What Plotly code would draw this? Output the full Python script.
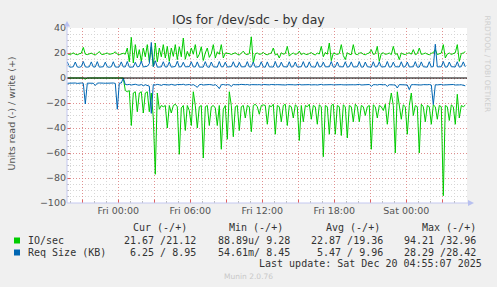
import plotly.graph_objects as go
import pandas as pd

# ---------------- data ----------------
start_time = "2025-12-18 19:45"   # first sample, 10-minute steps

# IO/sec  (read shown negative, write positive)
io_read = [
    0, 0, 0, 0, 0, 0, 0, 0, 0, -1.0,
    0, 0, 0, 0, 0, 0, 0, 0, 0, 0,
    0, 0, 0, 0, 0, 0, 0, 0, 0, -10,
    -11, -10, -38, -12, -11, -27, -12, -11, -28, -12,
    -11, -27, -12, -32, -77, -12, -25, -22, -23, -22,
    -40, -22, -28, -22, -21, -23, -61, -24, -22, -42,
    -22, -26, -38, -11, -22, -40, -23, -22, -64, -23,
    -22, -38, -23, -22, -24, -38, -22, -57, -25, -22,
    -49, -11, -22, -47, -23, -22, -42, -23, -22, -32,
    -22, -23, -43, -22, -21, -23, -29, -22, -21.5, -22,
    -37, -22, -23, -21, -45, -22, -23, -35, -22, -21,
    -38, -22, -23, -32, -21.5, -23, -50, -22, -35, -22,
    -23, -21, -33, -22, -23, -37, -21.5, -23, -63, -22,
    -23, -45, -22, -21, -45, -22, -23, -46, -21.5, -23,
    -48, -22, -23, -35, -21, -23, -35, -22, -23, -30,
    -23, -22, -57, -21.5, -23, -32, -22, -23, -26, -21,
    -37, -22, -12, -22, -60, -11, -22, -33, -21.5, -23,
    -45, -22, -12, -30, -22, -23, -60, -21, -23, -35,
    -22, -23, -37, -21.5, -23, -33, -22, -23, -94.21, -22,
    -23, -34, -21.5, -23, -37, -13, -32, -22, -23, -21.67,
]
io_write = [
    19.5, 18.8, 19.2, 20.1, 19.0, 18.6, 19.4, 19.8, 24.5, 19.1,
    18.7, 19.3, 19.9, 19.0, 18.5, 19.6, 21.2, 19.0, 18.8, 19.5,
    19.9, 18.9, 19.2, 19.7, 21.0, 19.1, 18.7, 19.4, 19.8, 19.0,
    24.0, 13.0, 32.5, 12.0, 26.7, 16.0, 22.7, 13.3, 24.0, 17.0,
    26.7, 13.0, 25.0, 9.28, 28.0, 13.0, 24.0, 17.0, 26.7, 16.0,
    25.3, 13.3, 24.0, 17.3, 26.7, 14.7, 25.0, 17.0, 32.0, 15.0,
    21.3, 17.3, 24.0, 19.0, 26.7, 16.0, 19.0, 25.0, 14.0, 20.0,
    24.0, 16.5, 19.5, 26.7, 16.0, 21.0, 19.0, 26.7, 16.0, 20.0,
    20.0, 19.5, 18.8, 19.6, 20.2, 19.0, 18.5, 19.8, 21.5, 19.2,
    18.7, 19.5, 32.96, 12.0, 19.5, 20.0, 18.9, 19.3, 20.5, 19.0,
    18.6, 19.4, 20.0, 24.0, 18.5, 19.3, 16.0, 20.2, 19.0, 19.6,
    25.3, 17.5, 19.2, 20.0, 18.8, 19.4, 21.5, 18.6, 19.8, 19.1,
    18.7, 19.6, 20.3, 19.0, 18.5, 19.9, 19.2, 25.3, 17.0, 20.5,
    19.0, 28.0, 13.9, 20.0, 19.2, 18.8, 19.6, 26.7, 18.0, 14.7,
    20.2, 19.0, 18.7, 26.7, 19.2, 18.7, 19.8, 20.3, 19.0, 18.6,
    19.5, 20.0, 22.7, 18.8, 19.4, 25.3, 13.3, 19.6, 20.1, 18.9,
    19.3, 20.0, 18.7, 25.3, 19.0, 19.4, 14.7, 20.1, 19.0, 18.8,
    19.6, 20.2, 19.0, 22.7, 18.6, 19.5, 24.0, 18.9, 19.3, 20.0,
    19.1, 18.6, 19.7, 20.3, 22.7, 18.8, 19.4, 19.9, 26.7, 16.0,
    19.2, 20.0, 18.8, 19.5, 20.2, 26.7, 13.3, 19.6, 20.0, 21.12,
]
# Req Size (KB)  (read shown negative, write positive)
req_read = [
    -4.2, -4.0, -3.9, -4.1, -4.0, -4.3, -3.9, -4.0, -4.2, -20.8,
    -4.1, -4.0, -3.9, -4.2, -6.0, -4.1, -4.0, -3.8, -4.1, -4.2,
    -4.0, -3.9, -4.1, -4.0, -4.3, -25.0, -4.1, -4.0, -0.055, -5.2,
    -5.4, -5.1, -5.6, -5.3, -5.0, -5.5, -5.8, -5.2, -6.2, -5.4,
    -5.7, -6.5, -28.29, -5.3, -5.6, -5.1, -5.4, -5.9, -5.2, -5.5,
    -5.3, -5.6, -5.1, -5.4, -5.8, -5.2, -5.5, -5.3, -5.0, -5.6,
    -5.4, -5.2, -5.7, -5.3, -6.2, -7.5, -5.4, -5.1, -5.6, -5.3,
    -5.5, -5.2, -5.4, -5.8, -5.3, -6.5, -8.5, -5.4, -5.2, -5.6,
    -5.3, -5.5, -6.7, -5.2, -5.4, -5.6, -5.3, -5.1, -5.5, -5.4,
    -5.2, -5.6, -5.3, -5.5, -5.1, -5.4, -5.3, -5.6, -5.2, -5.4,
    -5.3, -5.5, -5.2, -5.6, -5.4, -5.3, -5.5, -5.1, -5.4, -5.6,
    -5.3, -5.2, -5.5, -5.4, -5.6, -5.3, -5.1, -5.5, -5.4, -5.2,
    -5.6, -5.3, -5.5, -5.2, -5.4, -5.6, -5.3, -5.1, -5.5, -5.4,
    -5.2, -5.6, -5.3, -5.5, -5.4, -5.2, -5.6, -5.3, -5.5, -5.4,
    -5.3, -5.6, -5.2, -5.4, -5.5, -5.3, -5.1, -5.6, -5.4, -5.3,
    -5.5, -5.2, -6.7, -5.4, -5.3, -5.6, -5.2, -5.5, -5.4, -5.3,
    -6.7, -5.4, -5.2, -5.5, -5.6, -8.0, -5.3, -5.4, -5.2, -5.5,
    -5.6, -9.3, -5.4, -5.3, -5.5, -5.2, -5.4, -5.6, -5.3, -5.5,
    -5.4, -5.2, -5.6, -21.3, -5.4, -5.5, -5.3, -5.2, -5.6, -5.4,
    -5.3, -5.5, -5.4, -5.2, -5.6, -5.3, -5.5, -5.4, -5.9, -6.25,
]
req_write = [
    13.0, 8.9, 8.7, 9.0, 12.8, 8.8, 8.6, 9.1, 13.2, 8.9,
    8.7, 9.0, 12.9, 8.8, 8.9, 13.1, 8.7, 8.8, 9.0, 12.7,
    8.9, 8.6, 9.0, 13.0, 8.8, 8.7, 9.1, 12.9, 8.8, 8.9,
    13.2, 8.7, 9.0, 8.8, 12.6, 8.9, 9.2, 13.5, 8.8, 8.9,
    9.4, 11.5, 28.42, 9.0, 13.8, 8.7, 9.1, 8.9, 13.0, 8.8,
    9.0, 12.8, 8.7, 8.9, 9.2, 13.4, 8.8, 9.0, 12.6, 8.9,
    8.7, 9.1, 13.0, 8.8, 8.9, 12.9, 8.7, 9.0, 8.8, 13.1,
    8.9, 8.6, 12.8, 9.0, 8.8, 8.7, 13.2, 8.9, 9.0, 12.7,
    8.8, 8.7, 9.1, 13.0, 8.9, 8.8, 12.6, 8.9, 8.7, 9.0,
    13.1, 8.8, 9.0, 12.8, 8.7, 8.9, 9.1, 13.0, 8.8, 8.7,
    12.9, 8.9, 9.0, 8.8, 13.2, 8.7, 8.9, 12.7, 9.0, 8.8,
    8.9, 13.0, 8.7, 9.1, 12.8, 8.8, 8.9, 9.0, 13.1, 8.7,
    8.8, 12.9, 9.0, 8.9, 8.7, 13.0, 8.8, 9.1, 12.7, 8.9,
    8.8, 9.0, 13.2, 8.7, 8.9, 12.8, 9.0, 8.8, 8.9, 13.0,
    8.7, 9.1, 12.9, 8.8, 8.9, 9.0, 13.1, 8.7, 8.8, 12.8,
    9.0, 8.9, 8.7, 13.0, 8.8, 9.1, 12.9, 8.9, 8.8, 9.0,
    13.2, 8.7, 8.9, 12.7, 9.0, 8.8, 8.9, 13.0, 8.7, 9.1,
    12.8, 8.8, 8.9, 9.0, 13.1, 8.7, 8.8, 12.9, 9.0, 8.9,
    8.7, 13.0, 8.8, 9.1, 27.0, 8.9, 8.8, 9.0, 13.2, 8.7,
    8.9, 12.8, 9.0, 8.8, 8.9, 13.0, 8.7, 9.1, 12.9, 8.95,
]

x_range = ["2025-12-18 19:43:30", "2025-12-20 05:03:30"]
x_tickvals = ["2025-12-18 21:00", "2025-12-19 00:00", "2025-12-19 03:00",
              "2025-12-19 06:00", "2025-12-19 09:00", "2025-12-19 12:00",
              "2025-12-19 15:00", "2025-12-19 18:00", "2025-12-19 21:00",
              "2025-12-20 00:00", "2025-12-20 03:00"]
x_ticktext = ["", "Fri 00:00", "", "Fri 06:00", "", "Fri 12:00",
              "", "Fri 18:00", "", "Sat 00:00", ""]
y_tickvals = [-100, -80, -60, -40, -20, 0, 20, 40]

title_text = "IOs for /dev/sdc - by day"
y_title = "Units read (-) / write (+)"
legend_headers = ["Cur (-/+)", "Min (-/+)", "Avg (-/+)", "Max (-/+)"]
series_names = ["IO/sec", "Req Size (KB)"]
io_stats = ["21.67 /21.12", "88.89u/ 9.28", "22.87 /19.36", "94.21 /32.96"]
req_stats = ["6.25 / 8.95", "54.61m/ 8.45", "5.47 / 9.96", "28.29 /28.42"]
last_update = "Last update: Sat Dec 20 04:55:07 2025"
footer = "Munin 2.0.76"
side_text = "RRDTOOL / TOBI OETIKER"

GREEN = "#00CC00"
BLUE = "#0066B3"

# ---------------- layout geometry ----------------
W, H = 497, 287
L, R, T, B = 67, 30, 28, 84
PW, PH = W - L - R, H - T - B


def px(xp):
    return (xp - L) / PW


def py(yp):
    return (T + PH - yp) / PH


times = pd.date_range(start_time, periods=len(io_read), freq="10min")

fig = go.Figure()
for vals, col in ((io_read, GREEN), (io_write, GREEN), (req_read, BLUE), (req_write, BLUE)):
    fig.add_trace(go.Scatter(x=times, y=vals, mode="lines",
                             line=dict(color=col, width=1),
                             hoverinfo="skip", showlegend=False))

SANS = "DejaVu Sans"
MONO = "DejaVu Sans Mono"
MAJ = "rgba(225,120,120,0.75)"
MIN = "#d6d6d6"

fig.update_layout(
    width=W, height=H, autosize=False,
    margin=dict(l=L, r=R, t=T, b=B, pad=0),
    paper_bgcolor="#f0f0f0", plot_bgcolor="#ffffff",
    showlegend=False,
    xaxis=dict(type="date", range=x_range, tickmode="array",
               tickvals=x_tickvals, ticktext=x_ticktext,
               showgrid=True, gridcolor=MAJ, griddash="1px,2px", gridwidth=1,
               ticks="inside", ticklen=3, tickcolor="#e06060", tickwidth=1,
               tickfont=dict(family=SANS, size=9.5, color="#555555"),
               showline=False, zeroline=False, fixedrange=True,
               minor=dict(dtick=3600000, tick0="2025-12-18 00:00",
                          showgrid=True, gridcolor=MIN, griddash="1px,2px",
                          ticks="inside", ticklen=2, tickcolor="#bbbbbb")),
    yaxis=dict(range=[-100, 40], tickmode="array", tickvals=y_tickvals,
               showgrid=True, gridcolor=MAJ, griddash="1px,2px", gridwidth=1,
               ticks="inside", ticklen=3, tickcolor="#e06060",
               tickfont=dict(family=SANS, size=9.5, color="#555555"),
               showline=False, zeroline=False, fixedrange=True,
               minor=dict(dtick=5, showgrid=True, gridcolor=MIN,
                          griddash="1px,2px", ticks="inside", ticklen=2,
                          tickcolor="#bbbbbb")),
)

AX = "#c4c8f0"
shapes = [
    # zero rule
    dict(type="line", xref="paper", yref="y", x0=0, x1=1, y0=0, y1=0,
         line=dict(color="#000000", width=1.2), layer="above"),
    # y axis line + arrow
    dict(type="line", xref="paper", yref="paper", x0=0, x1=0,
         y0=py(T + PH), y1=py(25), line=dict(color=AX, width=1), layer="above"),
    dict(type="path", xref="paper", yref="paper",
         path="M %f %f L %f %f L %f %f Z" % (px(L - 3), py(26.5), px(L + 3), py(26.5), px(L), py(21)),
         fillcolor="#b8c0f0", line=dict(width=0), layer="above"),
    # x axis line + arrow
    dict(type="line", xref="paper", yref="paper", x0=0, x1=px(470),
         y0=0, y1=0, line=dict(color=AX, width=1), layer="above"),
    dict(type="path", xref="paper", yref="paper",
         path="M %f %f L %f %f L %f %f Z" % (px(468), py(T + PH - 3), px(468), py(T + PH + 3), px(474), py(T + PH)),
         fillcolor="#b8c0f0", line=dict(width=0), layer="above"),
    # legend colour boxes
    dict(type="rect", xref="paper", yref="paper", x0=px(14), x1=px(20),
         y0=py(243.5), y1=py(237.5), fillcolor=GREEN, line=dict(width=0)),
    dict(type="rect", xref="paper", yref="paper", x0=px(14), x1=px(20),
         y0=py(255.5), y1=py(249.5), fillcolor=BLUE, line=dict(width=0)),
]
fig.update_layout(shapes=shapes)


def nb(s):
    return s.replace(" ", "\u00a0")


def ann(text, xp, yp, size, color, family, xanchor="left", angle=0):
    fig.add_annotation(xref="paper", yref="paper", x=px(xp), y=py(yp),
                       text=nb(text), showarrow=False, xanchor=xanchor,
                       yanchor="middle", textangle=angle, borderpad=0,
                       font=dict(family=family, size=size, color=color))


ann(title_text, 248.3, 19, 12.5, "#333333", SANS, xanchor="center")
ann(y_title, 10.5, 114, 9.5, "#555555", SANS, xanchor="center", angle=-90)
ann(side_text, 487, 63.5, 7.5, "#cfcfcf", SANS, xanchor="center", angle=90)

header_right = [188, 284, 380.5, 477]
value_right = [197, 290.5, 384, 477]
for htxt, xr in zip(legend_headers, header_right):
    ann(htxt, xr, 227, 10, "#333333", MONO, xanchor="right")
ann(series_names[0], 26.5, 240, 10, "#333333", MONO)
ann(series_names[1], 26.5, 252, 10, "#333333", MONO)
for txt, xr in zip(io_stats, value_right):
    ann(txt, xr, 240, 10, "#333333", MONO, xanchor="right")
for txt, xr in zip(req_stats, value_right):
    ann(txt, xr, 252, 10, "#333333", MONO, xanchor="right")
ann(last_update, 483, 263.5, 10, "#333333", MONO, xanchor="right")
ann(footer, 248, 276.5, 7.5, "#c8c8c8", SANS, xanchor="center")

fig.write_html("out.html", config={"displayModeBar": False})
